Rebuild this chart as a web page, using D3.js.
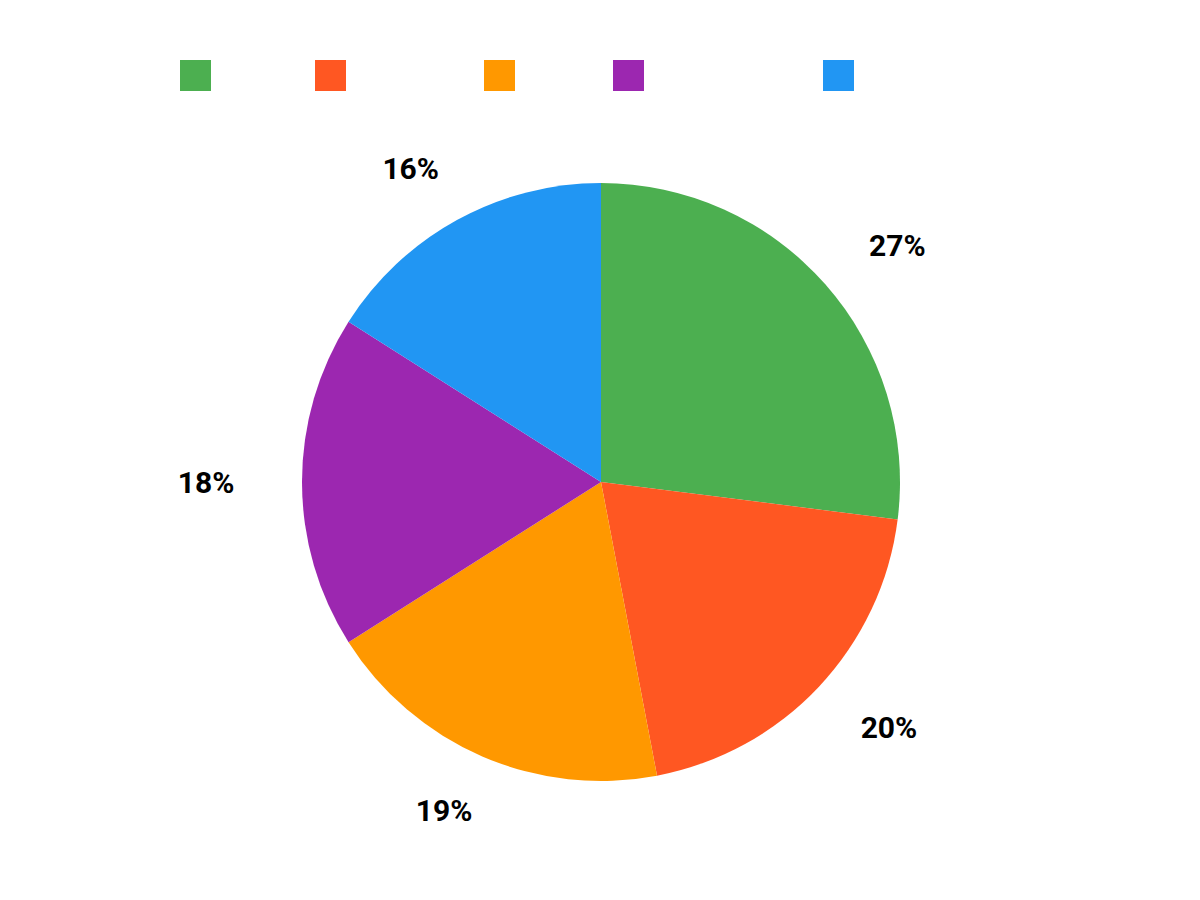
<!DOCTYPE html>
<html>
<head>
<meta charset="utf-8">
<script src="https://cdn.jsdelivr.net/npm/d3@7"></script>
<style>
    body { margin: 0; background: #fff; }
    svg { display: block; }
    .pct-label { font-family: "Roboto", sans-serif; font-weight: 700; font-size: 30px; fill: #000; }
</style>
</head>
<body>
<svg id="chart"></svg>
<script>
// chart data
var sliceValues = [27, 20, 19, 18, 16];
var sliceColors = ["#4caf50", "#ff5722", "#ff9800", "#9c27b0", "#2196f3"];
var percentLabels = ["27%", "20%", "19%", "18%", "16%"];

// legend swatch offsets (labels are not legible in the reference)
var legendOffsets = [0, 135, 304, 433, 643];

var width = 1200;
var height = 900;
var cx = 601;
var cy = 482;
var radius = 299;
var labelRadiusX = 395;
var labelRadiusY = 358;

var svg = d3.select("#chart")
    .attr("width", width)
    .attr("height", height);

// legend
var gLegend = svg.append("g")
    .attr("transform", "translate(180,60)");

gLegend.selectAll("rect")
    .data(sliceColors)
    .enter()
    .append("rect")
        .attr("x", function(d, i) { return legendOffsets[i]; })
        .attr("y", 0)
        .attr("width", 31)
        .attr("height", 31)
        .attr("fill", function(d) { return d; });

// pie
var pie = d3.pie()
    .sort(null)
    .value(function(d) { return d; });

var arc = d3.arc()
    .innerRadius(0)
    .outerRadius(radius);

var arcs = pie(sliceValues);

var gPie = svg.append("g")
    .attr("transform", "translate(" + cx + "," + cy + ")");

gPie.selectAll("path")
    .data(arcs)
    .enter()
    .append("path")
        .attr("d", arc)
        .attr("fill", function(d, i) { return sliceColors[i]; });

gPie.selectAll("text")
    .data(arcs)
    .enter()
    .append("text")
        .classed("pct-label", true)
        .attr("transform", function(d) {
            var a = (d.startAngle + d.endAngle) / 2;
            var x = Math.sin(a) * labelRadiusX;
            var y = -Math.cos(a) * labelRadiusY;
            return "translate(" + x + "," + y + ")";
        })
        .attr("dy", ".35em")
        .style("text-anchor", "middle")
        .text(function(d, i) { return percentLabels[i]; });
</script>
</body>
</html>
